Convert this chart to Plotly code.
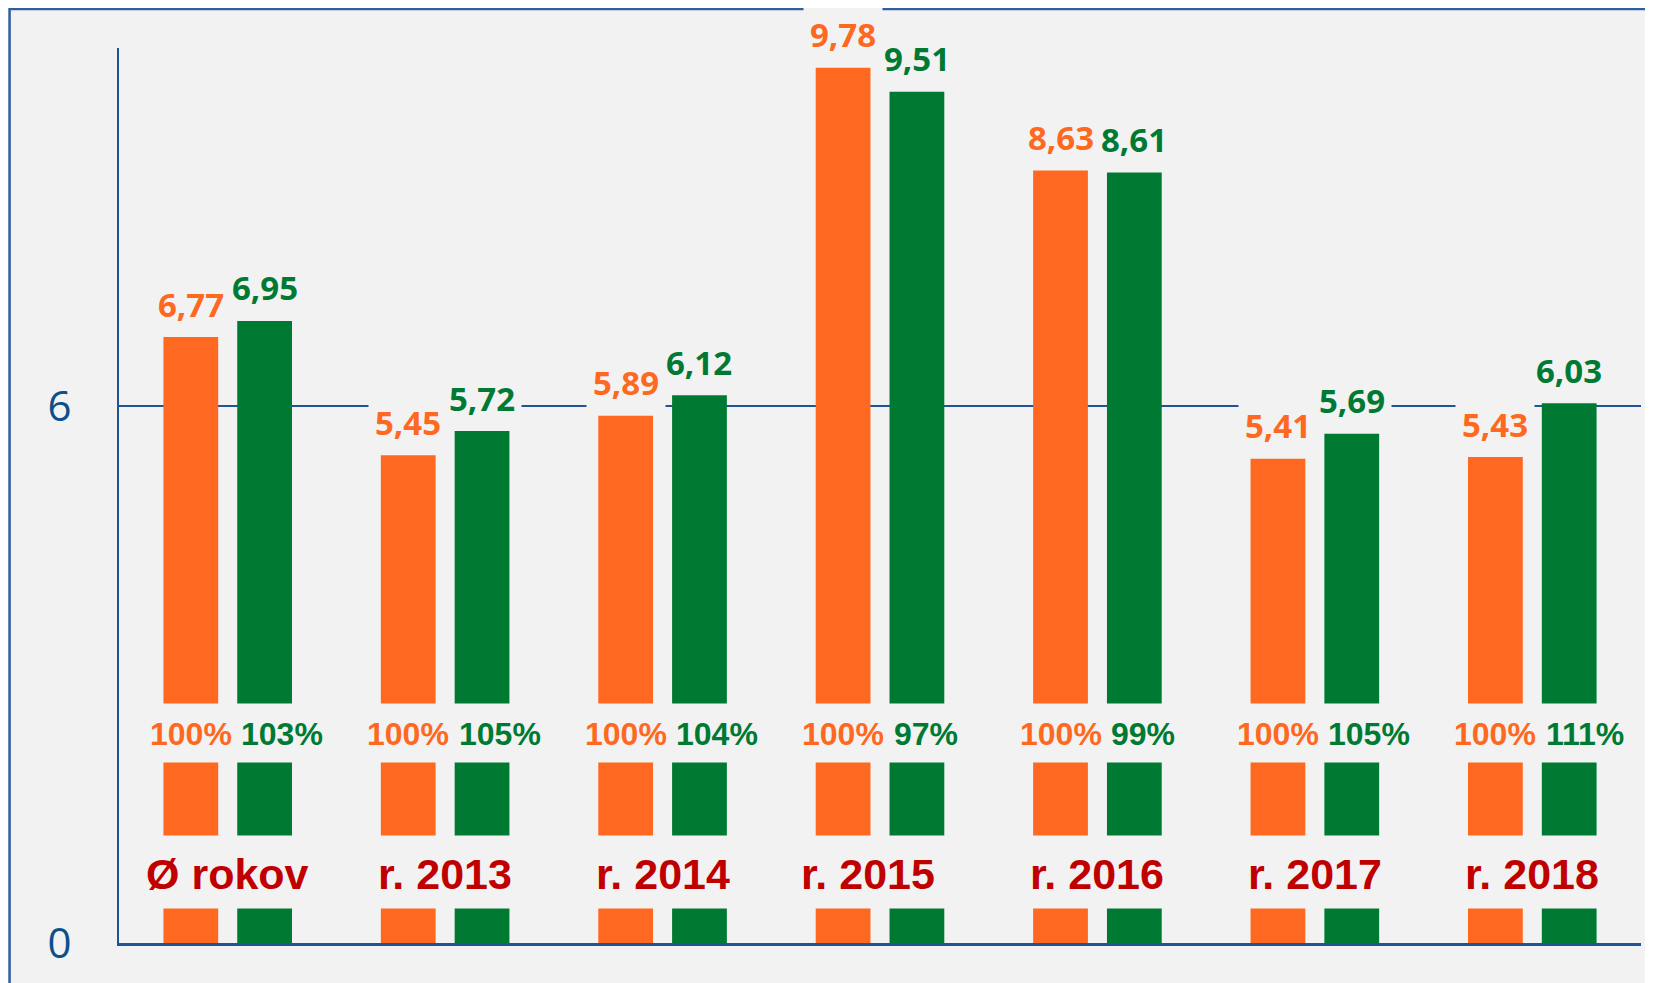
import plotly.graph_objects as go

categories = ["Ø rokov", "r. 2013", "r. 2014", "r. 2015", "r. 2016", "r. 2017", "r. 2018"]
orange_vals = [6.77, 5.45, 5.89, 9.78, 8.63, 5.41, 5.43]
green_vals = [6.95, 5.72, 6.12, 9.51, 8.61, 5.69, 6.03]
orange_pct = ["100%", "100%", "100%", "100%", "100%", "100%", "100%"]
green_pct = ["103%", "105%", "104%", "97%", "99%", "105%", "111%"]
y_ticks = [0, 6]

ORANGE = "#FF6820"
GREEN = "#007A33"
BG = "#F2F2F2"
AXIS = "#1F5596"
TICK = "#0B4F8C"
RED = "#C00000"
LABEL_NUDGE = {"r. 2015": -12}

def fmt(v):
    return f"{v:.2f}".replace(".", ",")

fig = go.Figure()
fig.add_trace(go.Bar(x=categories, y=orange_vals, marker=dict(color=ORANGE, line=dict(width=0)),
                     hoverinfo="skip", showlegend=False))
fig.add_trace(go.Bar(x=categories, y=green_vals, marker=dict(color=GREEN, line=dict(width=0)),
                     hoverinfo="skip", showlegend=False))

shapes = []
# background bands that interrupt the bars
for y0, y1 in [(2.017, 2.676), (0.386, 1.201)]:
    shapes.append(dict(type="rect", xref="paper", yref="y", x0=0.002, x1=1.0, y0=y0, y1=y1,
                       fillcolor=BG, line=dict(width=0), layer="above"))
# outer frame
shapes.append(dict(type="rect", xref="paper", yref="paper", x0=-0.0719, x1=1.2, y0=-0.2, y1=1.0436,
                   fillcolor="rgba(0,0,0,0)", line=dict(color="#2F5F9F", width=2.5), layer="above"))

annotations = []
OFF = 36.9
for i, c in enumerate(categories):
    annotations.append(dict(x=c, y=orange_vals[i], xref="x", yref="y", text=fmt(orange_vals[i]),
                            showarrow=False, xshift=-OFF, yshift=33, xanchor="center", yanchor="middle",
                            bgcolor=BG, borderpad=6,
                            font=dict(family="Open Sans", size=33, color=ORANGE, weight="bold")))
    annotations.append(dict(x=c, y=green_vals[i], xref="x", yref="y", text=fmt(green_vals[i]),
                            showarrow=False, xshift=OFF, yshift=33, xanchor="center", yanchor="middle",
                            bgcolor=BG, borderpad=6,
                            font=dict(family="Open Sans", size=33, color=GREEN, weight="bold")))
    annotations.append(dict(x=c, y=2.34, xref="x", yref="y", text=orange_pct[i],
                            showarrow=False, xshift=-OFF, xanchor="center", yanchor="middle",
                            font=dict(family="Liberation Sans", size=32, color=ORANGE, weight="bold")))
    annotations.append(dict(x=c, y=2.34, xref="x", yref="y", text=green_pct[i],
                            showarrow=False, xshift=11.5, xanchor="left", yanchor="middle",
                            font=dict(family="Liberation Sans", size=32, color=GREEN, weight="bold")))
    annotations.append(dict(x=c, y=0.776, xref="x", yref="y", text=c,
                            showarrow=False, xanchor="center", yanchor="middle",
                            xshift=LABEL_NUDGE.get(c, 0),
                            font=dict(family="Liberation Sans", size=43, color=RED, weight="bold")))

fig.update_layout(
    width=1653, height=983,
    paper_bgcolor=BG, plot_bgcolor=BG,
    margin=dict(l=111, r=20, t=40, b=48),
    barmode="group", bargap=0.321, bargroupgap=0.258,
    shapes=shapes, annotations=annotations,
    xaxis=dict(range=[-0.5, 6.5], showticklabels=False, showgrid=False, zeroline=False,
               showline=True, linecolor=AXIS, linewidth=2.5, ticks=""),
    yaxis=dict(range=[0, 10], tickvals=y_ticks, ticktext=[str(t) for t in y_ticks],
               showgrid=True, gridcolor=AXIS, gridwidth=2, zeroline=False,
               showline=True, linecolor=AXIS, linewidth=2, ticks="",
               ticklabelstandoff=37,
               tickfont=dict(family="Open Sans", size=42, color=TICK)),
)

fig.write_html("out.html")
